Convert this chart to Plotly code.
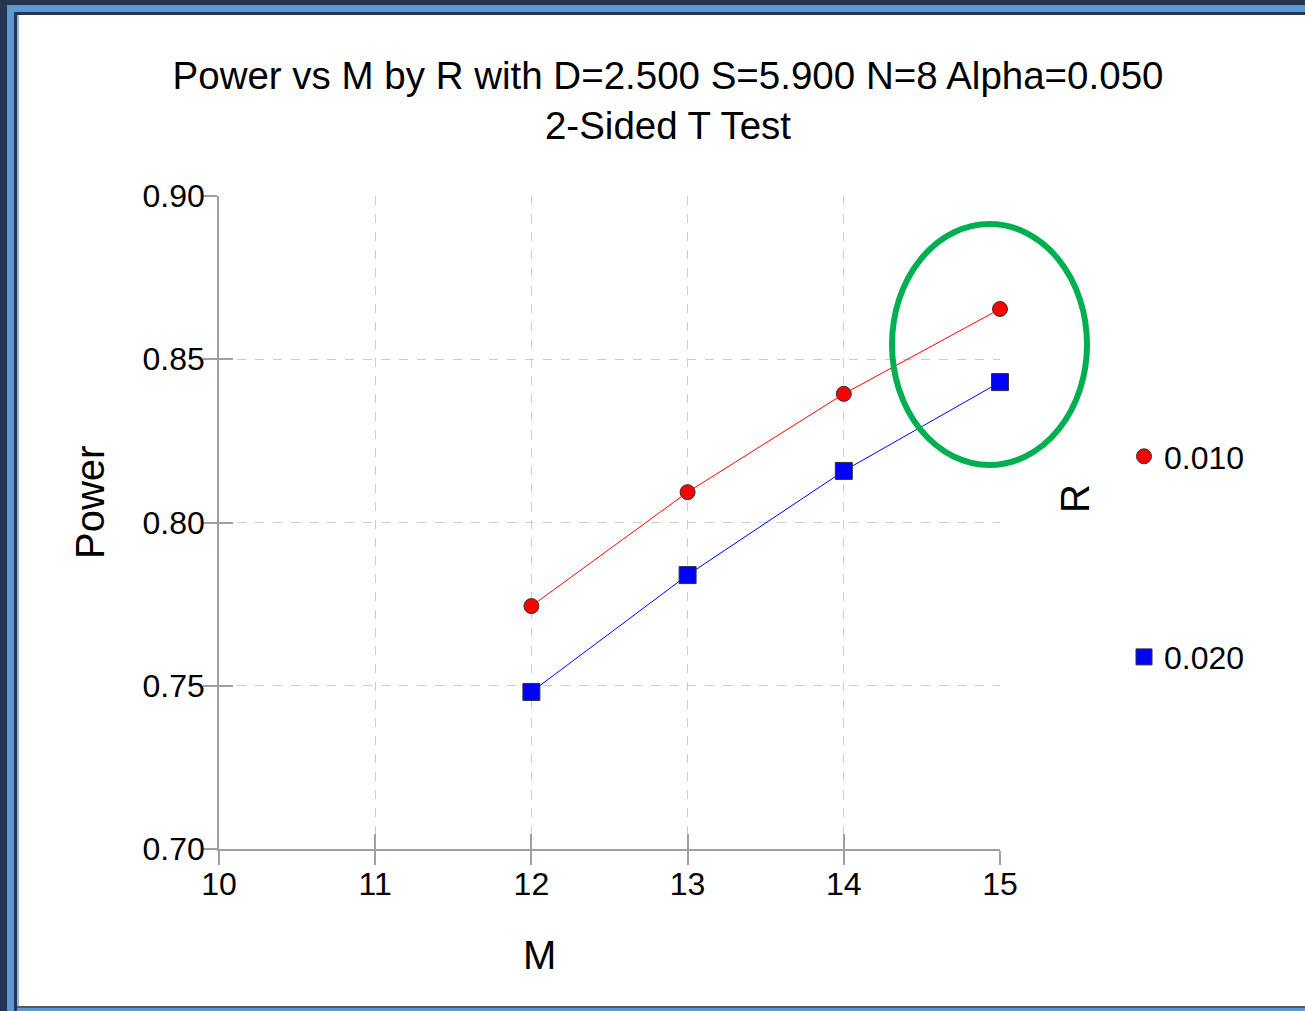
import plotly.graph_objects as go

# ---- data ----
M_values = [12, 13, 14, 15]
power_r010 = [0.7744, 0.8093, 0.8394, 0.8654]
power_r020 = [0.7481, 0.7839, 0.8158, 0.8430]
series_names = ["0.010", "0.020"]
x_ticks = [10, 11, 12, 13, 14, 15]
y_ticks = [0.70, 0.75, 0.80, 0.85, 0.90]
title_text = "Power vs M by R with D=2.500 S=5.900 N=8 Alpha=0.050<br>2-Sided T Test"

W, H = 1305, 1011
L, R, T, B = 219, 1000, 196, 849  # plot area in pixels


def px(xp):
    return (xp - L) / (R - L)


def py(yp):
    return (B - yp) / (B - T)


FONT = "Arial, Liberation Sans, sans-serif"
fig = go.Figure()

# lines (not in legend)
fig.add_trace(go.Scatter(x=M_values, y=power_r010, mode="lines", line=dict(color="#ff0000", width=1),
                         showlegend=False, hoverinfo="skip", cliponaxis=False))
fig.add_trace(go.Scatter(x=M_values, y=power_r020, mode="lines", line=dict(color="#0000ff", width=1),
                         showlegend=False, hoverinfo="skip", cliponaxis=False))
# markers (in legend)
fig.add_trace(go.Scatter(x=M_values, y=power_r010, mode="markers", name=series_names[0], legendgroup="a",
                         cliponaxis=False,
                         marker=dict(symbol="circle", size=15, color="#ff0000",
                                     line=dict(color="#333333", width=1))))
fig.add_trace(go.Scatter(x=M_values, y=power_r020, mode="markers", name=series_names[1], legendgroup="b",
                         cliponaxis=False,
                         marker=dict(symbol="square", size=17, color="#0000ff",
                                     line=dict(color="#333333", width=1))))

# inside-tick overlay axes
fig.add_trace(go.Scatter(x=[None], y=[None], xaxis="x2", yaxis="y2", showlegend=False, hoverinfo="skip"))

axis_common = dict(showline=True, linecolor="#a0a0a0", linewidth=1.5, ticks="outside", ticklen=14,
                   tickcolor="#a0a0a0", tickwidth=1.5, showgrid=True, gridcolor="#cccccc", griddash="dash",
                   gridwidth=1, zeroline=False, tickfont=dict(family=FONT, size=32, color="#000000"))

fig.update_layout(
    width=W, height=H,
    margin=dict(l=L, r=W - R, t=T, b=H - B),
    paper_bgcolor="white", plot_bgcolor="white",
    font=dict(family=FONT, color="#000000"),
    title=dict(text=title_text, x=668 / W, xanchor="center", y=1 - 89 / H, yanchor="middle",
               yref="container", font=dict(family=FONT, size=38.5, color="#000000")),
    xaxis=dict(range=[10, 15], tickvals=x_ticks, ticktext=[str(v) for v in x_ticks],
               ticklabelstandoff=-8, **axis_common),
    yaxis=dict(range=[0.70, 0.90], tickvals=y_ticks, ticktext=["%.2f" % v for v in y_ticks],
               ticklabelstandoff=-8, **axis_common),
    xaxis2=dict(range=[10, 15], overlaying="x", tickvals=x_ticks, showticklabels=False, ticks="inside",
                ticklen=15, tickcolor="#a0a0a0", tickwidth=1.5, showgrid=False, zeroline=False, showline=False),
    yaxis2=dict(range=[0.70, 0.90], overlaying="y", tickvals=y_ticks, showticklabels=False, ticks="inside",
                ticklen=14, tickcolor="#a0a0a0", tickwidth=1.5, showgrid=False, zeroline=False, showline=False),
    legend=dict(x=px(1124), y=py(429), xanchor="left", yanchor="top", font=dict(family=FONT, size=32),
                tracegroupgap=156, bgcolor="rgba(0,0,0,0)", itemsizing="trace"),
    showlegend=True,
)

# axis titles and legend title as annotations
fig.add_annotation(text="M", x=px(539), y=py(955), xref="paper", yref="paper", showarrow=False,
                   xanchor="center", yanchor="middle", font=dict(family=FONT, size=40, color="#000000"))
fig.add_annotation(text="Power", x=px(90), y=py(503), xref="paper", yref="paper", showarrow=False,
                   xanchor="center", yanchor="middle", textangle=-90,
                   font=dict(family=FONT, size=40, color="#000000"))
fig.add_annotation(text="R", x=px(1075), y=py(499), xref="paper", yref="paper", showarrow=False,
                   xanchor="center", yanchor="middle", textangle=-90,
                   font=dict(family=FONT, size=40, color="#000000"))

shapes = []
# green highlight ellipse
shapes.append(dict(type="circle", xref="paper", yref="paper", x0=px(892), x1=px(1087), y0=py(465), y1=py(224),
                   line=dict(color="#00b050", width=6)))


def rect(x0, y0, x1, y1, color):
    shapes.append(dict(type="rect", xref="paper", yref="paper", x0=px(x0), x1=px(x1), y0=py(y1), y1=py(y0),
                       fillcolor=color, line=dict(width=0), layer="above"))


DARK = "#263650"
BLUE = "#5b9bd5"
rect(0, 0, 7, H, DARK)
rect(0, 0, W, 5, DARK)
rect(7, 5, 14, H, BLUE)
rect(7, 5, W, 12, BLUE)
rect(14, 12, 17, H, DARK)
rect(14, 12, W, 15, DARK)
rect(17, 15, 19, 1006, "#8fb7e0")
rect(17, 1006, W, 1008, "#555a60")
rect(17, 1008, W, H, BLUE)

fig.update_layout(shapes=shapes)

fig.write_html("out.html")
